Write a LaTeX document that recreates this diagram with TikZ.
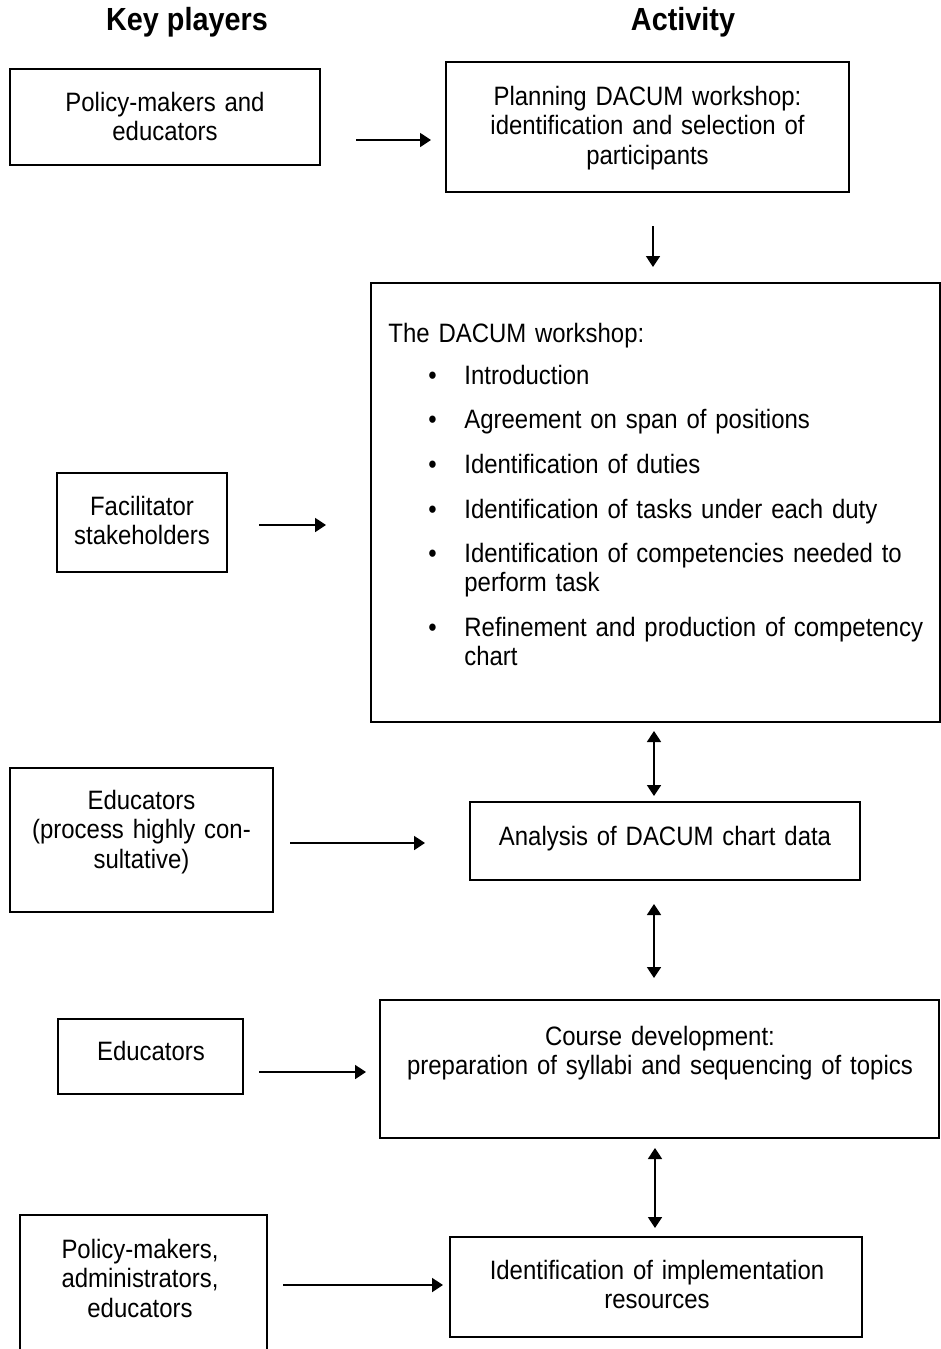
\documentclass[tikz,border=0pt]{standalone}
\usepackage{fontspec}
\setmainfont{Liberation Sans}[FakeStretch=0.9]
\usetikzlibrary{arrows.meta}
% body text: tighter interword spacing to go with the condensed glyphs
\newcommand{\bodyfont}{\fontsize{13.3}{14.75}\selectfont\spaceskip=3.1pt plus 0.5pt minus 0.5pt\relax}
\begin{document}
\begin{tikzpicture}[x=0.5pt,y=-0.5pt,
  box/.style={draw, line width=1pt, inner sep=0pt, rectangle},
  ctext/.style={inner sep=0pt, text width=270pt, align=center, anchor=base,
    font=\bodyfont},
  ltext/.style={inner sep=0pt, text width=250pt, align=left, anchor=base west,
    font=\bodyfont},
  head/.style={inner sep=0pt, anchor=base, font=\fontsize{16}{19}\selectfont\bfseries},
  tip/.tip={Triangle[length=5.5pt,width=7pt]},
  arr/.style={line width=0.9pt, -tip},
  darr/.style={line width=0.9pt, tip-tip}]
\useasboundingbox (0,0) rectangle (941,1349);
\clip (0,0) rectangle (941,1349);

% column headings
\node[head] (hkey) at (187,30) {Key players};
\node[head] (hact) at (683,30) {Activity};

% key players (left column)
\node[box, minimum width=155pt, minimum height=48pt] (pm) at (165,117) {};
\node[ctext] (pmt) at (165,111) {Policy-makers and\\educators};

\node[box, minimum width=85pt, minimum height=49.5pt] (fac) at (142,522.5) {};
\node[ctext] (fact) at (142,515) {Facilitator\\stakeholders};

\node[box, minimum width=131.5pt, minimum height=72pt] (edp) at (141.5,840) {};
\node[ctext] (edpt) at (141.5,809) {Educators\\(process highly con-\\sultative)};

\node[box, minimum width=92.5pt, minimum height=37.5pt] (ed) at (150.5,1056.5) {};
\node[ctext] (edt) at (151,1060) {Educators};

\node[box, minimum width=123.5pt, minimum height=77.5pt] (pma) at (143.5,1292.5) {};
\node[ctext] (pmat) at (140,1258) {Policy-makers,\\administrators,\\educators};

% activities (right column)
\node[box, minimum width=201.5pt, minimum height=65pt] (plan) at (647.5,127) {};
\node[ctext] (plant) at (647.5,105) {Planning DACUM workshop:\\identification and selection of\\participants};

\node[box, minimum width=284.5pt, minimum height=219.5pt] (ws) at (655.5,502.5) {};
\node[ltext] (wst) at (388,342) {The DACUM workshop:};
\foreach \y/\name/\txt in {
    384/i1/{Introduction},
    428/i2/{Agreement on span of positions},
    473/i3/{Identification of duties},
    518/i4/{Identification of tasks under each duty},
    562/i5/{Identification of competencies needed to\\perform task},
    636/i6/{Refinement and production of competency\\chart}} {
  \node[ltext, text width=20pt] (b\name) at (428,\y) {\textbullet};
  \node[ltext] (\name) at (464,\y) {\txt};
}

\node[box, minimum width=195pt, minimum height=39pt] (ana) at (665,841) {};
\node[ctext] (anat) at (665,845) {Analysis of DACUM chart data};

\node[box, minimum width=279.5pt, minimum height=69pt] (cd) at (659.5,1069) {};
\node[ctext] (cdt) at (660,1045) {Course development:\\preparation of syllabi and sequencing of topics};

\node[box, minimum width=206pt, minimum height=50pt] (ir) at (656,1287) {};
\node[ctext] (irt) at (657,1279) {Identification of implementation\\resources};

% connectors from key players to activities
\draw[arr] ([shift={(35,23)}]pm.east) -- ([shift={(-14,13)}]plan.west);
\draw[arr] ([shift={(31,2.5)}]fac.east) -- ([shift={(-44,22.5)}]ws.west);
\draw[arr] ([shift={(16,3)}]edp.east) -- ([shift={(-44,2)}]ana.west);
\draw[arr] ([shift={(15,15.5)}]ed.east) -- ([shift={(-13,3)}]cd.west);
\draw[arr] ([shift={(15,-7.5)}]pma.east) -- ([shift={(-6,-2)}]ir.west);

% connectors between activities
\draw[arr] ([shift={(5.5,33)}]plan.south) -- ([shift={(-2.5,-15)}]ws.north);
\draw[darr] ([shift={(-1.5,8)}]ws.south) -- ([shift={(-11,-5)}]ana.north);
\draw[darr] ([shift={(-11,23)}]ana.south) -- ([shift={(-5.5,-21)}]cd.north);
\draw[darr] ([shift={(-4.5,9)}]cd.south) -- ([shift={(-1,-8)}]ir.north);
\end{tikzpicture}
\end{document}
